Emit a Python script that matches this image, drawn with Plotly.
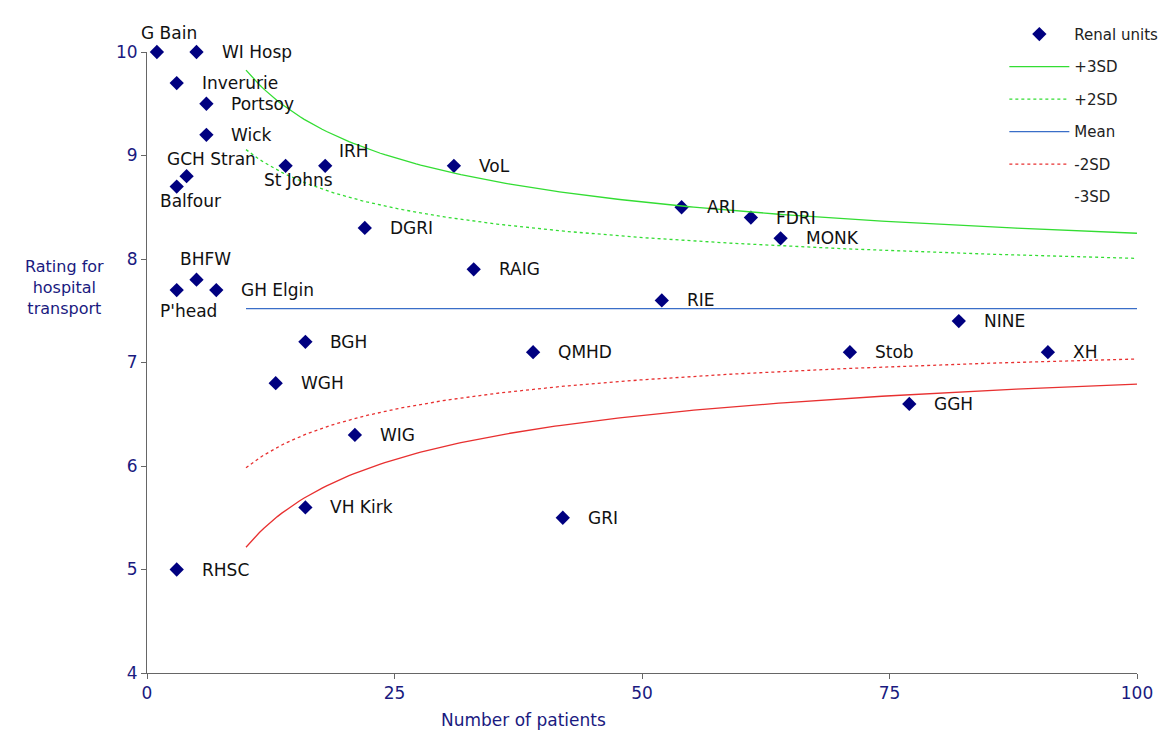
import plotly.graph_objects as go
import numpy as np

units = ["G Bain","WI Hosp","Inverurie","Portsoy","Wick","GCH Stran","Balfour","St Johns","IRH","VoL",
         "DGRI","ARI","FDRI","MONK","RAIG","BHFW","P'head","GH Elgin","RIE","NINE","BGH","QMHD","Stob",
         "XH","WGH","GGH","WIG","VH Kirk","GRI","RHSC"]
patients = [1,5,3,6,6,4,3,14,18,31,22,54,61,64,33,5,3,7,52,82,16,39,71,91,13,77,21,16,42,3]
rating = [10,10,9.7,9.5,9.2,8.8,8.7,8.9,8.9,8.9,8.3,8.5,8.4,8.2,7.9,7.8,7.7,7.7,7.6,7.4,7.2,7.1,7.1,
          7.1,6.8,6.6,6.3,5.6,5.5,5.0]
# label pixel offsets (dx, dy, anchor)
label_off = {"G Bain":(12,-19,"center"),"GCH Stran":(25,-17,"center"),"Balfour":(14,14,"center"),
             "St Johns":(13,14,"center"),"IRH":(12,-15,"left"),"BHFW":(9,-21,"center"),"P'head":(12,21,"center")}
mean_rating = 7.52
sd = 2.43
n_curve = np.linspace(10, 100, 200)
FONT = "DejaVu Sans, Arial, sans-serif"

fig = go.Figure()
fig.add_trace(go.Scatter(x=patients, y=rating, mode="markers", name="Renal units", legendgroup="a",
                         marker=dict(symbol="diamond", size=11, color="#000080"), cliponaxis=False))
lines = [("+3SD", 3, "#33dd33", "solid"), ("+2SD", 2, "#33dd33", "dot"), ("Mean", 0, "#3a6ec8", "solid"),
         ("-2SD", -2, "#e83030", "dot"), ("-3SD", -3, "#e83030", "solid")]
for name, k, col, dash in lines:
    y = mean_rating + k * sd / np.sqrt(n_curve)
    if name == "-3SD":
        fig.add_trace(go.Scatter(x=n_curve, y=y, mode="lines", line=dict(color=col, width=1.3),
                                 showlegend=False, hoverinfo="skip"))
        fig.add_trace(go.Scatter(x=[None], y=[None], mode="lines", name=name, legendgroup=name,
                                 line=dict(color="rgba(0,0,0,0)", width=1.3)))
    else:
        fig.add_trace(go.Scatter(x=n_curve, y=y, mode="lines", name=name, legendgroup=name,
                                 line=dict(color=col, width=1.3, dash=dash)))

for u, xv, yv in zip(units, patients, rating):
    dx, dy, anc = label_off.get(u, (23, 0, "left"))
    fig.add_annotation(x=xv, y=yv, text=u, showarrow=False, xshift=dx, yshift=-dy,
                       xanchor=anc, yanchor="middle", font=dict(size=17, color="#111"))

fig.add_annotation(xref="paper", yref="paper", x=-0.083, y=0.62, text="Rating for<br>hospital<br>transport",
                   showarrow=False, font=dict(size=16, color="#1a1a80"), align="center", xanchor="center")
fig.add_annotation(xref="paper", yref="paper", x=0.38, y=-0.076, text="Number of patients",
                   showarrow=False, font=dict(size=17, color="#1a1a80"), yanchor="middle")

fig.update_layout(width=1175, height=734, plot_bgcolor="white", paper_bgcolor="white",
                  margin=dict(l=139, r=46, t=44, b=69, autoexpand=False),
                  font=dict(family=FONT),
                  legend=dict(x=0.866, y=1.055, xanchor="left", yanchor="top", font=dict(size=15, color="#222"),
                              bgcolor="rgba(0,0,0,0)", tracegroupgap=10, itemwidth=60))
fig.update_xaxes(range=[0, 100], tickvals=[0, 25, 50, 75, 100], showgrid=False, zeroline=False,
                 showline=True, linecolor="#666", ticks="outside", ticklen=5, tickcolor="#666",
                 tickfont=dict(size=17, color="#1a1a80"))
fig.update_yaxes(range=[4, 10], dtick=1, showgrid=False, zeroline=False, showline=True, linecolor="#666",
                 ticks="outside", ticklen=5, tickcolor="#666", tickfont=dict(size=17, color="#1a1a80"))
fig.write_html("out.html")
